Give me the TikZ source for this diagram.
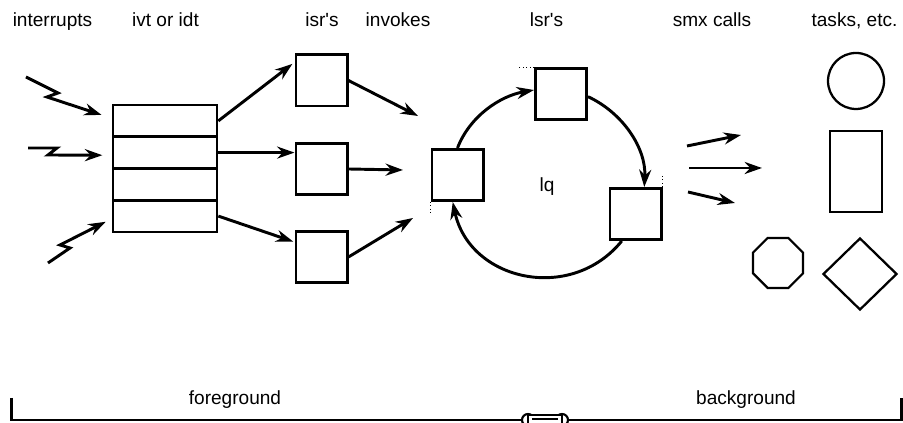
\documentclass[tikz,border=0pt]{standalone}
\usepackage{fontspec}
\setmainfont{Liberation Sans}
\usetikzlibrary{shapes.geometric, arrows.meta}
\tikzstyle{box} = [rectangle, minimum width=38.5pt, minimum height=38.5pt, inner sep=0pt, draw=black, line width=2pt]
\tikzstyle{slot} = [rectangle, minimum width=78pt, minimum height=23.8pt, inner sep=0pt, draw=black, line width=2pt]
\tikzstyle{task} = [draw=black, line width=1.7pt, inner sep=0pt]
\tikzstyle{head} = [anchor=base, inner sep=0pt, font=\fontsize{14.3}{17}\selectfont]
\tikzstyle{arrow} = [line width=2.2pt, -{Stealth[length=13pt,width=9pt]}]

\begin{document}
\begin{tikzpicture}[x=0.75pt, y=0.75pt]
\useasboundingbox (0,0) rectangle (903,423);

% Column headings
\node (hint) [head] at (52.5,396) {interrupts};
\node (hivt) [head] at (165.5,396) {ivt or idt};
\node (hisr) [head] at (322,396) {isr\textquotesingle s};
\node (hinv) [head] at (398,396) {invokes};
\node (hlsr) [head] at (546.5,396) {lsr\textquotesingle s};
\node (hsmx) [head] at (712,396) {smx calls};
\node (htsk) [head] at (854.5,396) {tasks, etc.};

% Vector table
\node (r1) [slot] at (165,302.1) {};
\node (r2) [slot] at (165,270.4) {};
\node (r3) [slot] at (165,238.6) {};
\node (r4) [slot] at (165,206.9) {};

% Interrupt lines
\coordinate (z1) at (26,346);
\coordinate (z2) at (28,275);
\coordinate (z3) at (48,160);
\draw [arrow, line join=miter, shorten >=8pt] (z1) -- ++(32,-16) -- ++(-11,-4) -- ([yshift=2pt]r1.west);
\draw [arrow, line join=miter, shorten >=7pt] (z2) -- ++(29,0) -- ++(-9,-7) -- ([yshift=-2pt]r2.west);
\draw [arrow, line join=miter, shorten >=5pt] (z3) -- ++(22,15) -- ++(-10,3) -- ([yshift=-2pt]r4.west);

% isr's
\node (isr1) [box] at (321.5,342.5) {};
\node (isr2) [box] at (321.5,254) {};
\node (isr3) [box] at (321.5,166) {};

\draw [arrow, shorten >=2pt] (r1.east) -- (isr1.146);
\draw [arrow] (r2.east) -- (r2.east -| isr2.west);
\draw [arrow, shorten >=1pt] (r4.east) -- (isr3.151);

% invokes
\coordinate (inv1) at (418,307);
\coordinate (inv2) at (403,253);
\coordinate (inv3) at (413,205);
\draw [arrow] (isr1.east) -- (inv1);
\draw [arrow] (isr2.east) -- (inv2);
\draw [arrow] (isr3.east) -- (inv3);

% lsr queue
\node (L1) [box] at (457.5,248) {};
\node (L2) [box] at (561,329) {};
\node (L3) [box] at (635.5,209) {};
\node (lq) [head, anchor=center] at (547,236) {lq};

\draw [arrow] (L1.north) to[out=69, in=190, looseness=0.91] ([yshift=3pt]L2.west);
\draw [arrow] ([yshift=-2pt]L2.east) to[out=-25, in=87, looseness=0.93] (L3.72);
\draw [arrow] (L3.243) to[out=231, in=282, looseness=1.19] (L1.260);

\draw [dotted, line width=0.6pt] (L1.south west) -- ++(0,-12);
\draw [dotted, line width=0.6pt] (L2.north west) -- ++(-15,0);
\draw [dotted, line width=0.6pt] (L3.north east) -- ++(0,12);

% smx calls
\coordinate (s1) at (687,277);
\coordinate (s1e) at (741,288);
\coordinate (s2) at (689,255);
\coordinate (s2e) at (762,255);
\coordinate (s3) at (688,231);
\coordinate (s3e) at (735,220);
\draw [arrow] (s1) -- (s1e);
\draw [arrow] (s2) -- (s2e);
\draw [arrow] (s3) -- (s3e);

% Tasks
\node (tcirc) [task, circle, minimum size=42pt] at (856,342) {};
\node (trect) [task, rectangle, minimum width=39pt, minimum height=60.75pt, line width=2pt] at (856,251.5) {};
\node (toct) [task, regular polygon, regular polygon sides=8, minimum size=40.6pt] at (778,160) {};
\node (tdia) [task, diamond, minimum width=55.5pt, minimum height=54pt] at (860,149) {};

% Foreground / background bar
\coordinate (bl) at (11.5,25);
\coordinate (br) at (901.5,25);
\draw [line width=1.6pt] (bl) -- (bl |- 0,3) -- (br |- 0,3) -- (br);
\node (fg) [head] at (235,18) {foreground};
\node (bg) [head] at (746,18) {background};

% Link in the bar
\draw [line width=1.6pt, fill=white] (528,3) circle (6);
\draw [line width=1.6pt, fill=white] (562,3) circle (6);
\draw [line width=1.6pt, fill=white] (528,8) -- (562,8) -- (562,-2) -- (528,-2) -- cycle;
\draw [line width=0.8pt] (532,4) -- (558,4);

\end{tikzpicture}
\end{document}
